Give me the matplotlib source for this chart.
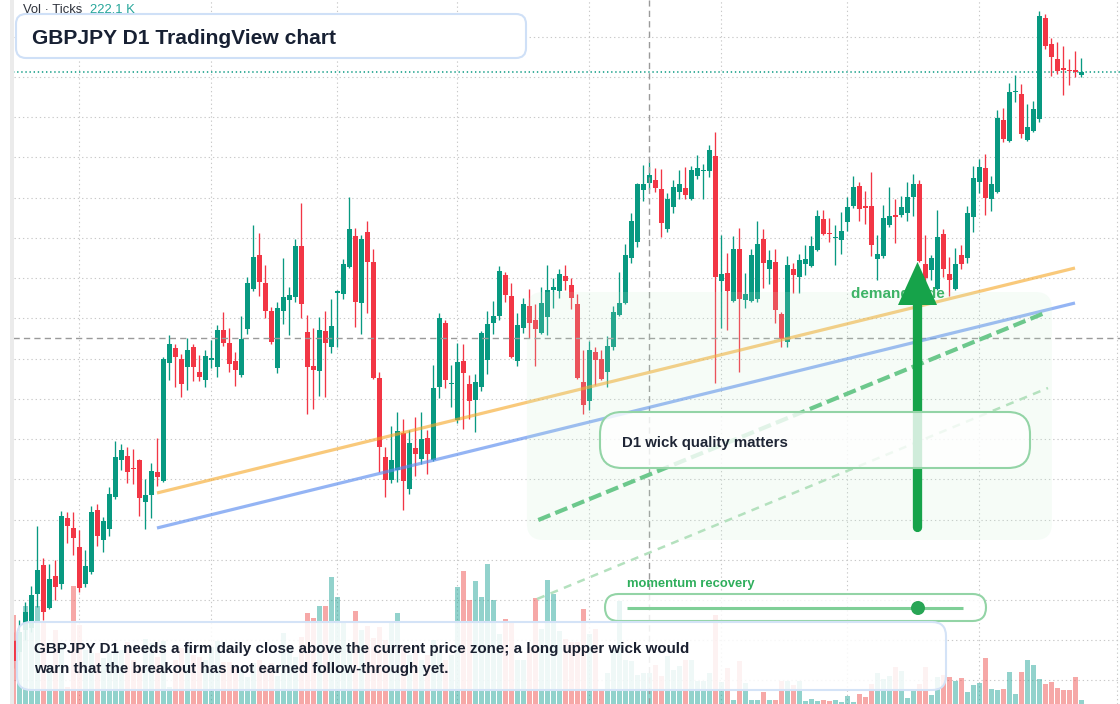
import matplotlib
matplotlib.use("Agg")
import matplotlib.pyplot as plt
from matplotlib.patches import FancyBboxPatch, Polygon, Circle, Rectangle
import matplotlib.transforms as mtransforms
import numpy as np

plt.rcParams['font.family'] = ['Liberation Sans', 'DejaVu Sans']

# ---------------- data (GBPJPY D1) ----------------
opens = [
193.97, 193.86, 194.08, 194.10, 194.44, 194.73, 194.30, 194.62, 194.54, 195.20,
195.10, 194.91, 194.54, 194.66, 195.28, 194.98, 195.09, 195.41, 195.78, 195.82,
195.70, 195.78, 195.36, 195.43, 195.66, 195.57, 196.75, 196.90, 196.79, 196.71,
196.91, 196.66, 196.58, 196.78, 196.71, 197.08, 196.95, 196.77, 196.63, 197.09,
197.49, 197.83, 197.55, 197.27, 196.70, 197.27, 197.38, 197.41, 197.92, 197.06,
196.72, 196.67, 197.07, 196.91, 197.45, 197.44, 197.71, 198.02, 197.35, 198.06,
197.76, 196.60, 195.81, 195.58, 195.68, 196.05, 195.49, 195.90, 195.79, 196.00,
195.78, 196.51, 197.15, 196.54, 196.18, 196.77, 196.54, 196.38, 196.51, 196.78,
197.15, 197.22, 197.63, 197.42, 196.77, 197.10, 197.32, 197.18, 197.05, 197.21,
197.48, 197.47, 197.62, 197.53, 197.34, 196.56, 196.37, 196.86, 196.79, 196.66,
196.91, 197.23, 197.35, 197.80, 197.96, 198.48, 198.55, 198.58, 198.49, 198.09,
198.31, 198.46, 198.50, 198.39, 198.62, 198.67, 198.67, 198.82, 197.57, 197.65,
197.37, 197.89, 197.38, 197.37, 197.39, 197.99, 197.69, 197.76, 197.24, 196.96,
197.69, 197.61, 197.74, 197.72, 197.88, 198.19, 198.05, 198.00, 197.98, 198.16,
198.32, 198.52, 198.31, 198.32, 197.79, 197.82, 198.13, 198.23, 198.23, 198.25,
198.41, 198.54, 197.74, 197.68, 197.49, 198.04, 197.64, 197.49, 197.83, 197.80,
198.21, 198.56, 198.70, 198.39, 198.46, 199.18, 198.97, 199.46, 199.44, 198.98,
199.07, 199.19, 200.20, 199.94, 199.79, 199.70, 199.68, 199.68, 199.63]

highs = [
194.06, 194.18, 194.36, 194.52, 195.12, 194.80, 194.74, 194.78, 195.27, 195.26,
195.26, 195.08, 194.88, 195.32, 195.34, 195.21, 195.51, 195.97, 195.94, 195.91,
195.89, 195.79, 195.59, 195.75, 196.00, 196.81, 197.03, 196.94, 196.84, 197.00,
196.94, 196.83, 196.88, 196.98, 197.13, 197.26, 197.10, 196.86, 197.22, 197.61,
198.13, 198.05, 197.73, 197.31, 197.36, 197.80, 197.51, 197.99, 198.35, 197.23,
197.10, 197.21, 197.27, 197.39, 197.48, 197.79, 198.41, 198.10, 198.03, 198.17,
197.89, 196.66, 195.91, 196.12, 196.26, 196.19, 196.08, 196.21, 196.26, 196.08,
196.73, 197.25, 197.18, 196.73, 196.95, 196.94, 196.63, 196.64, 197.07, 197.27,
197.37, 197.72, 197.66, 197.55, 197.25, 197.40, 197.49, 197.34, 197.51, 197.73,
197.60, 197.69, 197.73, 197.60, 197.44, 196.88, 196.97, 196.91, 196.88, 197.02,
197.32, 197.66, 197.94, 198.25, 198.55, 198.73, 198.76, 198.70, 198.69, 198.45,
198.58, 198.68, 198.71, 198.72, 198.83, 198.74, 198.93, 199.06, 198.03, 197.85,
198.02, 198.10, 197.65, 197.89, 198.17, 198.09, 197.88, 197.89, 197.26, 197.82,
197.75, 197.84, 197.93, 198.02, 198.28, 198.28, 198.20, 198.13, 198.26, 198.41,
198.62, 198.56, 198.47, 198.66, 198.03, 198.33, 198.51, 198.39, 198.42, 198.56,
198.64, 198.58, 198.03, 197.83, 198.28, 198.09, 197.81, 197.90, 197.93, 198.32,
198.72, 198.79, 198.84, 198.62, 199.28, 199.30, 199.55, 199.63, 199.54, 199.34,
199.37, 200.27, 200.24, 200.00, 199.96, 199.92, 199.79, 199.87, 199.80]

lows = [
193.70, 193.78, 193.98, 194.06, 194.31, 194.18, 194.29, 194.38, 194.49, 194.95,
194.83, 194.46, 194.51, 194.64, 194.92, 194.86, 195.02, 195.39, 195.68, 195.55,
195.54, 195.22, 195.09, 195.20, 195.52, 195.56, 196.58, 196.51, 196.41, 196.48,
196.57, 196.57, 196.51, 196.70, 196.61, 196.92, 196.66, 196.52, 196.61, 197.04,
197.47, 197.42, 197.20, 196.94, 196.65, 197.14, 197.03, 197.36, 197.20, 196.24,
196.29, 196.42, 196.41, 196.85, 196.91, 197.39, 197.70, 197.11, 197.04, 197.25,
196.59, 195.66, 195.41, 195.55, 195.56, 195.28, 195.44, 195.62, 195.74, 195.64,
195.77, 196.40, 196.50, 196.31, 196.15, 196.09, 196.19, 196.06, 196.47, 196.64,
197.04, 197.18, 197.36, 196.80, 196.72, 197.05, 197.00, 196.72, 197.04, 197.03,
197.30, 197.40, 197.48, 197.29, 196.59, 196.24, 196.28, 196.53, 196.58, 196.51,
196.88, 197.22, 197.34, 197.75, 197.91, 198.37, 198.49, 198.46, 198.01, 198.06,
198.25, 198.39, 198.39, 198.38, 198.59, 198.39, 198.61, 196.55, 197.10, 197.08,
197.36, 196.66, 197.30, 197.36, 197.36, 197.50, 197.54, 197.15, 196.91, 196.91,
197.45, 197.45, 197.63, 197.71, 197.87, 198.03, 197.96, 197.73, 197.84, 198.07,
198.30, 198.17, 198.14, 197.82, 197.58, 197.80, 198.11, 197.95, 198.21, 198.17,
198.22, 197.76, 197.51, 197.58, 197.48, 197.61, 197.42, 197.48, 197.69, 197.75,
198.06, 198.45, 198.23, 198.27, 198.45, 198.96, 198.96, 199.36, 199.00, 198.97,
199.06, 199.16, 199.89, 199.62, 199.64, 199.43, 199.53, 199.61, 199.61]

closes = [
193.77, 194.06, 194.26, 194.43, 194.68, 194.26, 194.59, 194.51, 195.22, 195.12,
195.00, 194.50, 194.72, 195.26, 195.02, 195.17, 195.44, 195.81, 195.88, 195.66,
195.69, 195.40, 195.43, 195.67, 195.61, 196.79, 196.94, 196.81, 196.54, 196.88,
196.71, 196.61, 196.82, 196.80, 197.08, 196.95, 196.74, 196.68, 196.99, 197.55,
197.81, 197.56, 197.27, 196.96, 197.30, 197.41, 197.43, 197.92, 197.34, 196.71,
196.68, 197.08, 196.95, 197.12, 197.47, 197.74, 198.09, 197.36, 197.99, 197.76,
196.60, 195.91, 195.58, 195.78, 196.07, 195.57, 195.95, 195.84, 195.99, 195.84,
196.50, 197.20, 196.58, 196.55, 196.76, 196.65, 196.37, 196.56, 197.05, 197.14,
197.22, 197.67, 197.43, 196.81, 197.13, 197.34, 197.15, 197.09, 197.35, 197.48,
197.51, 197.64, 197.57, 197.40, 196.60, 196.33, 196.88, 196.78, 196.59, 196.92,
197.26, 197.35, 197.83, 198.17, 198.54, 198.54, 198.63, 198.50, 198.15, 198.39,
198.51, 198.54, 198.43, 198.68, 198.70, 198.68, 198.88, 197.61, 197.64, 197.47,
197.89, 197.39, 197.44, 197.83, 197.94, 197.75, 197.78, 197.28, 196.99, 197.73,
197.63, 197.78, 197.79, 197.92, 198.22, 198.04, 198.04, 198.01, 198.07, 198.31,
198.51, 198.29, 198.30, 197.93, 197.84, 198.20, 198.22, 198.21, 198.31, 198.41,
198.54, 197.77, 197.60, 197.80, 198.01, 197.69, 197.58, 197.74, 197.74, 198.25,
198.60, 198.71, 198.40, 198.54, 199.20, 198.99, 199.46, 199.47, 199.04, 199.11,
199.29, 200.22, 199.92, 199.81, 199.67, 199.68, 199.67, 199.66, 199.66]

# tick volume, thousands
volumes_k = [
638, 494, 702, 566, 702, 588, 265, 530, 437, 122,
845, 566, 387, 365, 365, 330, 365, 408, 387, 444,
315, 265, 466, 437, 337, 451, 122, 315, 401, 408,
351, 337, 315, 408, 451, 301, 301, 265, 244, 193,
294, 315, 265, 294, 201, 509, 408, 337, 480, 652,
616, 702, 702, 910, 767, 580, 401, 666, 530, 559,
473, 552, 459, 595, 652, 423, 351, 387, 315, 351,
459, 387, 315, 351, 838, 953, 745, 881, 767, 1003,
745, 502, 609, 595, 315, 315, 408, 759, 537, 888,
788, 523, 466, 444, 444, 681, 502, 537, 100, 222,
394, 738, 315, 308, 208, 222, 222.1, 279, 201, 344,
244, 272, 315, 315, 165, 165, 222, 638, 158, 258,
29, 308, 150, 29, 29, 86, 29, 29, 165, 165,
136, 165, 25, 35, 20, 30, 22, 29, 14, 57,
14, 72, 50, 143, 222, 179, 201, 265, 236, 43,
100, 143, 265, 64, 193, 208, 193, 165, 186, 86,
136, 150, 330, 107, 100, 107, 229, 72, 229, 315,
279, 179, 143, 158, 115, 100, 100, 193, 29]

crosshair_bar = 106
crosshair_price = 197.00
vol_label = "222.1 K"

# analysis drawings (bar index, price)
orange_trend = ([23.95, 176.95], [195.45, 197.70])
blue_trend = ([23.95, 176.95], [195.10, 197.35])
green_path = ([87.5, 172.3], [195.18, 197.26])
green_path_faint = ([87.3, 172.45], [194.39, 196.50])
zone_x = (85.6, 173.1)
zone_p = (194.98, 197.46)
arrow_bar = 150.7
arrow_from, arrow_head_base, arrow_tip = 195.11, 197.33, 197.76
month_lines = [11, 33, 54, 74, 96, 118, 139, 161, 184]

# ---------------- figure ----------------
W, H, DPI = 1120, 704, 100
fig = plt.figure(figsize=(W / DPI, H / DPI), dpi=DPI)
fig.patch.set_facecolor('white')

LEFT = 13.5
PX_PER_PRICE = 100.0
PX_PER_BAR = 6.0
X0 = 13.3
x_lo = (LEFT - X0) / PX_PER_BAR
x_hi = (W - X0) / PX_PER_BAR
p_top = 200.38
p_bot = p_top - H / PX_PER_PRICE

vax = fig.add_axes([LEFT / W, 0, 1 - LEFT / W, 1])
ax = vax.twinx()
for a in (ax, vax):
    a.set_xlim(x_lo, x_hi)
    a.set_axis_off()
    a.patch.set_visible(False)
ax.set_ylim(p_bot, p_top)
K_PER_PX = 7.165
vax.set_ylim(0, H * K_PER_PX)
vax.set_zorder(1)
ax.set_zorder(2)

TEAL = '#089981'
RED = '#f23645'
o = np.array(opens); h = np.array(highs); l = np.array(lows); c = np.array(closes)
v = np.array(volumes_k)
idx = np.arange(len(o))
up = c >= o

# grid (dotted)
grid_kw = dict(color='#c9c9c9', lw=0.8, dashes=(1.2, 2.6), zorder=0)
blend = mtransforms.blended_transform_factory(vax.transAxes, ax.transData)
grid_prices = np.arange(p_top - 36.8 / PX_PER_PRICE, p_bot, -40.23 / PX_PER_PRICE)
for gp in grid_prices:
    vax.plot([0, 1], [gp, gp], transform=blend, **grid_kw)
for mx in month_lines:
    vax.axvline(mx - 0.05, **grid_kw)

# volume
vax.bar(idx, v, width=0.83, color=np.where(up, '#26a69a', '#ef5350'), alpha=0.5,
        linewidth=0, zorder=1)

# last price line
ax.axhline(c[-1], color=TEAL, lw=1.1, dashes=(0.9, 1.8), zorder=1)

# candles
col = np.where(up, TEAL, RED)
ax.vlines(idx, l, h, colors=col, lw=0.95, zorder=2)
body_lo = np.minimum(o, c)
body_h = np.maximum(np.abs(c - o), 0.015)
ax.bar(idx, body_h, bottom=body_lo, width=0.76, color=col, linewidth=0, zorder=3)

# crosshair
ax.axvline(crosshair_bar, color='#9a9a9a', lw=1.0, dashes=(4.5, 3.0), zorder=4)
ax.axhline(crosshair_price, color='#9a9a9a', lw=1.0, dashes=(4.5, 3.0), zorder=4)

# ---------------- overlay ----------------
ov = fig.add_axes([0, 0, 1, 1])
ov.set_xlim(0, W)
ov.set_ylim(H, 0)
ov.set_axis_off()
ov.patch.set_visible(False)
ov.set_zorder(5)
td = ax.transData

ov.add_patch(Rectangle((10, 0), 3.5, H, fc='#ebebeb', ec='none', zorder=1))

ov.plot(*orange_trend, transform=td, color='#f5a623', alpha=0.6, lw=2.3,
        solid_capstyle='butt', zorder=2)
ov.plot(*blue_trend, transform=td, color='#5b8def', alpha=0.65, lw=2.3,
        solid_capstyle='butt', zorder=2)

zone = FancyBboxPatch((zone_x[0], zone_p[0]), zone_x[1] - zone_x[0], zone_p[1] - zone_p[0],
                      boxstyle='round,pad=0,rounding_size=2.7', mutation_aspect=0.06,
                      transform=td, fc='#c8f0d2', ec='none', alpha=0.16, zorder=3)
ov.add_patch(zone)

ov.plot(*green_path, transform=td, color='#6cc88c', lw=3.0, dashes=(3.1, 1.3), zorder=4)
ov.plot(*green_path_faint, transform=td, color='#b4e1be', lw=1.8, dashes=(3.2, 2.6), zorder=4)

ov.text(851, 297.5, 'demand side', color='#3db366', fontsize=11, fontweight='bold',
        va='baseline', ha='left', zorder=5)

ov.plot([arrow_bar, arrow_bar], [arrow_from, arrow_head_base + 0.05], transform=td,
        color='#16a34a', lw=6.7, solid_capstyle='round', zorder=6)
ov.add_patch(Polygon([(arrow_bar - 3.25, arrow_head_base), (arrow_bar + 3.25, arrow_head_base),
                      (arrow_bar, arrow_tip)], closed=True, transform=td,
                     fc='#16a34a', ec='none', zorder=6))

# D1 box
ov.add_patch(FancyBboxPatch((600, 412), 430, 56, boxstyle='round,pad=0,rounding_size=22',
                            fc=(1, 1, 1, 0.8), ec='#93d4a6', lw=1.5, zorder=7))
ov.text(622, 447.5, 'D1 wick quality matters', color='#1e2535', fontsize=10.8,
        fontweight='bold', va='baseline', ha='left', zorder=8)

# momentum pill
ov.text(627, 587.5, 'momentum recovery', color='#2fae5c', fontsize=9.4,
        fontweight='bold', va='baseline', ha='left', zorder=8)
ov.add_patch(FancyBboxPatch((605, 594), 381, 27, boxstyle='round,pad=0,rounding_size=13.5',
                            fc=(1, 1, 1, 0.8), ec='#93d4a6', lw=1.5, zorder=7))
ov.plot([627, 963], [608, 608], color='#7fcf97', lw=2.2, solid_capstyle='butt', zorder=8)
ov.add_patch(Circle((918, 608), 7, fc='#28a555', ec='none', zorder=9))

# bottom note
ov.add_patch(FancyBboxPatch((17, 622), 929, 68, boxstyle='round,pad=0,rounding_size=14',
                            fc=(1, 1, 1, 0.86), ec='#d4e3f7', lw=1.5, zorder=7))
ov.text(34, 653.5, 'GBPJPY D1 needs a firm daily close above the current price zone; a long upper wick would',
        color='#1a2030', fontsize=10.9, fontweight='bold', va='baseline', ha='left', zorder=8)
ov.text(34, 673.5, 'warn that the breakout has not earned follow-through yet.',
        color='#1a2030', fontsize=10.9, fontweight='bold', va='baseline', ha='left', zorder=8)

# title
ov.add_patch(FancyBboxPatch((16, 14), 510, 44, boxstyle='round,pad=0,rounding_size=10',
                            fc='white', ec='#cfe0f7', lw=1.5, zorder=7))
ov.text(32, 43.5, 'GBPJPY D1 TradingView chart', color='#172033', fontsize=15.1,
        fontweight='bold', va='baseline', ha='left', zorder=8)

ov.text(23, 12.7, 'Vol · Ticks', color='#2e323c', fontsize=9.4, va='baseline', ha='left', zorder=8)
ov.text(90, 12.7, vol_label, color='#26a69a', fontsize=9.4, va='baseline', ha='left', zorder=8)

fig.savefig('out.png', dpi=DPI, facecolor='white')
